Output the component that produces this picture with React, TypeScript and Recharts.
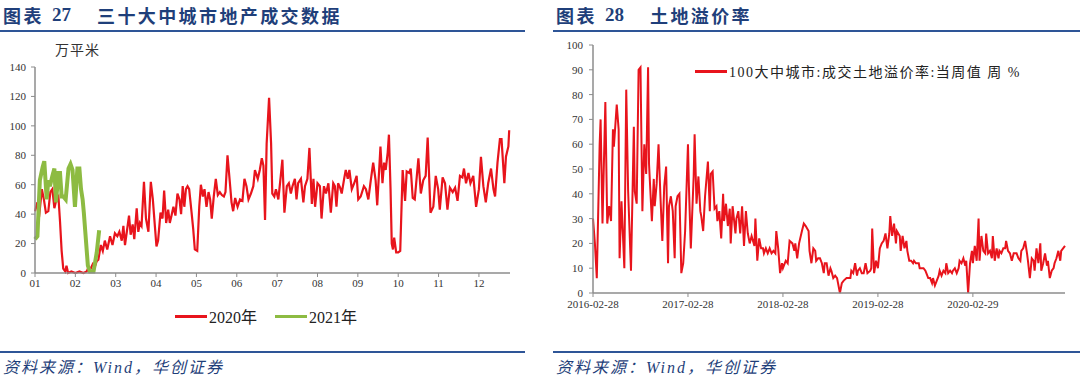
import React from 'react';
import { LineChart, Line, XAxis, YAxis, Legend } from 'recharts';

// 图表27：三十大中城市地产成交（万平米），x 为月份序号（0 = 1月）
const monthTicks = [0, 1, 2, 3, 4, 5, 6, 7, 8, 9, 10, 11];
const monthLabels = ['01', '02', '03', '04', '05', '06', '07', '08', '09', '10', '11', '12'];
const volumeTicks = [0, 20, 40, 60, 80, 100, 120, 140];

const sales2020: [number, number][] = [
  [0, 42], [0.06, 48], [0.1, 38], [0.17, 57], [0.22, 50], [0.27, 41], [0.33, 42], [0.38, 55], [0.43, 57],
  [0.48, 44], [0.53, 50], [0.58, 52], [0.62, 35], [0.66, 15], [0.7, 3], [0.75, 1], [0.78, 5], [0.82, 0],
  [0.9, 1], [1.0, 0], [1.1, 1], [1.2, 0], [1.28, 1], [1.33, 4], [1.38, 3], [1.43, 6], [1.48, 4], [1.53, 8],
  [1.57, 9], [1.63, 19], [1.68, 15], [1.73, 22], [1.79, 16], [1.86, 25], [1.92, 19], [1.98, 27], [2.04, 25],
  [2.09, 28], [2.15, 22], [2.19, 32], [2.23, 19], [2.27, 27], [2.33, 39], [2.37, 26], [2.42, 33], [2.46, 23],
  [2.52, 44], [2.56, 28], [2.6, 34], [2.64, 32], [2.7, 62], [2.75, 37], [2.81, 28], [2.87, 62], [2.92, 50],
  [2.97, 32], [3.01, 18], [3.05, 22], [3.11, 41], [3.16, 37], [3.2, 56], [3.25, 34], [3.3, 43], [3.34, 34],
  [3.39, 40], [3.43, 45], [3.48, 39], [3.53, 54], [3.58, 50], [3.62, 40], [3.66, 59], [3.7, 45], [3.74, 57],
  [3.78, 59], [3.82, 57], [3.88, 41], [3.92, 30], [3.96, 16], [4.02, 15], [4.07, 45], [4.11, 60], [4.16, 52],
  [4.2, 57], [4.25, 45], [4.3, 55], [4.34, 50], [4.38, 37], [4.43, 52], [4.48, 64], [4.53, 53], [4.58, 55],
  [4.63, 53], [4.68, 52], [4.72, 55], [4.77, 80], [4.83, 61], [4.87, 48], [4.91, 42], [4.96, 51], [5.02, 45],
  [5.08, 50], [5.14, 49], [5.19, 64], [5.24, 59], [5.29, 50], [5.35, 54], [5.41, 59], [5.45, 70], [5.52, 64],
  [5.57, 70], [5.62, 78], [5.66, 73], [5.7, 36], [5.74, 88], [5.8, 119], [5.85, 88], [5.88, 54], [5.93, 52],
  [5.97, 57], [6.03, 50], [6.09, 66], [6.13, 77], [6.18, 41], [6.24, 59], [6.29, 61], [6.34, 54], [6.38, 59],
  [6.44, 64], [6.48, 50], [6.52, 61], [6.59, 64], [6.65, 48], [6.69, 59], [6.75, 64], [6.8, 85], [6.86, 47],
  [6.9, 64], [6.94, 45], [7.0, 61], [7.06, 59], [7.1, 37], [7.16, 59], [7.21, 54], [7.27, 61], [7.33, 41],
  [7.39, 61], [7.43, 59], [7.47, 45], [7.51, 61], [7.56, 58], [7.6, 54], [7.66, 64], [7.7, 70], [7.75, 64],
  [7.79, 70], [7.85, 57], [7.91, 61], [7.97, 66], [8.01, 50], [8.07, 52], [8.15, 59], [8.2, 57], [8.26, 50],
  [8.32, 63], [8.38, 75], [8.44, 63], [8.48, 46], [8.56, 86], [8.61, 61], [8.65, 75], [8.69, 70], [8.74, 82],
  [8.77, 94], [8.81, 57], [8.84, 20], [8.87, 16], [8.9, 24], [8.95, 14], [9.0, 14], [9.05, 15], [9.11, 70],
  [9.17, 49], [9.21, 69], [9.27, 68], [9.31, 71], [9.36, 51], [9.41, 50], [9.5, 78], [9.56, 54], [9.62, 63],
  [9.68, 66], [9.73, 92], [9.8, 41], [9.87, 45], [9.93, 66], [9.99, 57], [10.03, 43], [10.1, 65], [10.16, 61],
  [10.22, 43], [10.28, 58], [10.35, 55], [10.41, 58], [10.47, 49], [10.53, 66], [10.59, 65], [10.63, 71],
  [10.68, 61], [10.74, 68], [10.79, 61], [10.86, 66], [10.93, 45], [11.0, 57], [11.05, 79], [11.11, 59],
  [11.17, 48], [11.23, 61], [11.3, 71], [11.36, 57], [11.4, 52], [11.46, 75], [11.52, 91], [11.56, 91],
  [11.63, 61], [11.67, 79], [11.73, 86], [11.75, 97],
];

const sales2021: [number, number][] = [
  [0, 23], [0.06, 25], [0.12, 63], [0.19, 72], [0.23, 76], [0.29, 50], [0.33, 63], [0.37, 59], [0.43, 66],
  [0.48, 71], [0.52, 48], [0.58, 68], [0.62, 68], [0.66, 52], [0.7, 52], [0.76, 50], [0.83, 71], [0.88, 74],
  [0.93, 70], [0.99, 45], [1.05, 71], [1.1, 71], [1.14, 57], [1.18, 50], [1.21, 41], [1.26, 23], [1.31, 5],
  [1.36, 1], [1.45, 1], [1.53, 14], [1.59, 29],
];

// 图表28：土地溢价率（%），x 为自 2016-02-28 起的年数
const yearTicks = [0, 1, 2, 3, 4];
const yearLabels = ['2016-02-28', '2017-02-28', '2018-02-28', '2019-02-28', '2020-02-29'];
const premiumTicks = [0, 10, 20, 30, 40, 50, 60, 70, 80, 90, 100];

const premiumRate: [number, number][] = [
  [0, 30], [0.02, 20], [0.04, 6], [0.07, 60], [0.08, 70], [0.1, 28], [0.13, 77], [0.15, 28], [0.17, 35],
  [0.19, 29], [0.21, 66], [0.22, 59], [0.25, 76], [0.27, 66], [0.28, 14], [0.3, 37], [0.33, 10], [0.35, 82],
  [0.37, 41], [0.4, 9], [0.43, 67], [0.44, 41], [0.46, 36], [0.48, 90], [0.5, 91], [0.52, 33], [0.54, 60],
  [0.56, 48], [0.58, 91], [0.59, 52], [0.62, 29], [0.64, 46], [0.65, 35], [0.67, 44], [0.69, 60], [0.71, 39],
  [0.73, 21], [0.75, 43], [0.77, 51], [0.79, 12], [0.8, 35], [0.82, 39], [0.84, 33], [0.86, 14], [0.87, 35],
  [0.89, 39], [0.91, 40], [0.93, 8], [0.95, 12], [0.97, 25], [1.0, 60], [1.01, 43], [1.03, 18], [1.06, 47],
  [1.07, 64], [1.09, 36], [1.11, 47], [1.13, 33], [1.14, 31], [1.16, 25], [1.18, 39], [1.21, 53], [1.23, 33],
  [1.24, 48], [1.26, 49], [1.28, 34], [1.3, 35], [1.31, 29], [1.33, 33], [1.35, 22], [1.37, 40], [1.38, 29],
  [1.4, 36], [1.42, 27], [1.44, 34], [1.45, 20], [1.47, 35], [1.5, 24], [1.51, 30], [1.53, 33], [1.55, 24],
  [1.57, 35], [1.59, 19], [1.61, 33], [1.63, 24], [1.65, 20], [1.67, 23], [1.7, 19], [1.71, 30], [1.73, 13],
  [1.75, 22], [1.77, 18], [1.79, 18], [1.8, 16], [1.82, 18], [1.84, 16], [1.86, 18], [1.88, 16], [1.9, 17],
  [1.92, 16], [1.93, 25], [1.95, 18], [1.97, 8], [1.99, 12], [2.0, 10], [2.03, 13], [2.05, 12], [2.07, 21],
  [2.1, 20], [2.12, 17], [2.13, 20], [2.15, 14], [2.17, 20], [2.2, 25], [2.22, 28], [2.24, 27], [2.27, 25],
  [2.28, 17], [2.3, 12], [2.32, 18], [2.34, 17], [2.35, 13], [2.37, 14], [2.39, 14], [2.41, 12], [2.43, 8],
  [2.44, 12], [2.46, 12], [2.48, 7], [2.5, 10], [2.51, 9], [2.53, 6], [2.55, 7], [2.57, 6], [2.58, 4],
  [2.6, 0], [2.62, 4], [2.64, 5], [2.67, 6], [2.71, 6], [2.72, 9], [2.74, 8], [2.76, 12], [2.78, 7],
  [2.79, 9], [2.81, 10], [2.83, 8], [2.85, 8], [2.87, 12], [2.89, 8], [2.92, 9], [2.93, 10], [2.94, 26],
  [2.96, 8], [2.98, 13], [3.0, 10], [3.01, 14], [3.02, 18], [3.04, 20], [3.06, 21], [3.08, 24], [3.1, 18],
  [3.12, 24], [3.13, 31], [3.15, 23], [3.17, 28], [3.19, 20], [3.2, 25], [3.23, 23], [3.24, 17], [3.26, 23],
  [3.28, 18], [3.3, 21], [3.31, 17], [3.33, 13], [3.35, 13], [3.37, 12], [3.38, 13], [3.4, 12], [3.43, 12],
  [3.44, 10], [3.46, 10], [3.48, 10], [3.5, 9], [3.51, 8], [3.53, 6], [3.55, 6], [3.57, 4], [3.58, 6],
  [3.6, 3], [3.62, 5], [3.64, 7], [3.65, 9], [3.67, 7], [3.69, 9], [3.71, 8], [3.72, 12], [3.74, 8],
  [3.76, 9], [3.78, 8], [3.79, 9], [3.81, 10], [3.83, 8], [3.85, 10], [3.86, 13], [3.88, 12], [3.9, 14],
  [3.92, 11], [3.93, 13], [3.95, 0], [3.97, 12], [3.99, 17], [4.0, 12], [4.02, 19], [4.04, 13], [4.06, 30],
  [4.07, 13], [4.09, 23], [4.11, 17], [4.13, 16], [4.14, 24], [4.16, 16], [4.18, 17], [4.2, 14], [4.21, 23],
  [4.23, 13], [4.25, 18], [4.27, 14], [4.28, 17], [4.3, 16], [4.32, 18], [4.34, 18], [4.35, 21], [4.37, 17],
  [4.39, 16], [4.41, 13], [4.43, 16], [4.44, 16], [4.46, 16], [4.48, 14], [4.5, 13], [4.51, 17], [4.53, 18],
  [4.55, 21], [4.57, 16], [4.58, 13], [4.6, 6], [4.62, 14], [4.64, 13], [4.65, 9], [4.67, 18], [4.69, 12],
  [4.71, 20], [4.72, 9], [4.74, 12], [4.76, 16], [4.78, 11], [4.79, 13], [4.81, 6], [4.83, 9], [4.85, 10],
  [4.86, 12], [4.88, 14], [4.9, 17], [4.92, 13], [4.93, 17], [4.95, 18], [4.97, 19],
];

const serif = "'Liberation Serif', 'Times New Roman', 'Noto Sans CJK SC', serif";
const cjk = "'Noto Sans CJK SC', sans-serif";
const navy = '#1f3f7a';
const ruleBlue = '#2e5597';
const red = '#e8141c';
const green = '#8dbb42';
const axisGray = '#8c8c8c';

const toRows = (pts: [number, number][]) => pts.map(([x, y]) => ({ x, y }));

const tickStyle = { fontSize: 11, fill: '#333', fontFamily: serif };

function legendContent(props: any) {
  const items = props.payload || [];
  return (
    <div style={{ display: 'flex', gap: 18, fontFamily: serif, color: '#222' }}>
      {items.map((entry: any) => (
        <div key={entry.value} style={{ display: 'flex', alignItems: 'center' }}>
          <span style={{ display: 'inline-block', width: 32, height: 3, background: entry.color, marginRight: 2 }} />
          <span>{entry.value}</span>
        </div>
      ))}
    </div>
  );
}

function Heading({ left, num, text, width }: { left: number; num: string; text: string; width: number }) {
  const base: React.CSSProperties = { position: 'absolute', top: 3, lineHeight: '24px', fontWeight: 700, color: navy };
  return (
    <>
      <span style={{ ...base, left: left + 3, fontFamily: cjk, fontSize: 18, letterSpacing: 2.4 }}>图表</span>
      <span style={{ ...base, left: left + 52, fontFamily: serif, fontSize: 19 }}>{num}</span>
      <span style={{ ...base, left: left + 97, fontFamily: cjk, fontSize: 18, letterSpacing: 2.4 }}>{text}</span>
      <div style={{ position: 'absolute', left, top: 30, width, height: 2, background: ruleBlue }} />
      <div style={{ position: 'absolute', left, top: 351, width, height: 2, background: ruleBlue }} />
      <span
        style={{
          position: 'absolute', left: left + 3, top: 357, fontSize: 16, fontStyle: 'italic',
          fontFamily: serif, color: navy, letterSpacing: 2, lineHeight: '22px',
        }}
      >
        资料来源：Wind，华创证券
      </span>
    </>
  );
}

export default function App() {
  return (
    <div style={{ position: 'absolute', left: 0, top: 0, width: 1080, height: 381, background: '#fff', overflow: 'hidden' }}>
      <Heading left={0} num="27" text="三十大中城市地产成交数据" width={525} />
      <Heading left={553} num="28" text="土地溢价率" width={527} />

      <span style={{ position: 'absolute', left: 55, top: 39, fontSize: 14, fontFamily: cjk, color: '#333', letterSpacing: 1 }}>
        万平米
      </span>

      <div style={{ position: 'absolute', left: 0, top: 0 }}>
        <LineChart width={525} height={330} margin={{ top: 67, right: 15, bottom: 37, left: 0 }}>
          <XAxis
            type="number"
            dataKey="x"
            domain={[0, 11.77]}
            ticks={monthTicks}
            tickFormatter={(v: number) => monthLabels[v]}
            tick={tickStyle}
            height={20}
            tickSize={4}
            axisLine={{ stroke: axisGray, strokeWidth: 1.5 }}
            tickLine={{ stroke: axisGray }}
          />
          <YAxis
            type="number"
            domain={[0, 140]}
            ticks={volumeTicks}
            tick={tickStyle}
            width={35}
            tickSize={4}
            tickMargin={5}
            axisLine={{ stroke: axisGray, strokeWidth: 1.5 }}
            tickLine={{ stroke: axisGray }}
          />
          <Legend
            layout="horizontal"
            verticalAlign="middle"
            align="center"
            content={legendContent}
            wrapperStyle={{ top: 304, left: 175, width: 'auto', fontSize: 16 }}
          />
          <Line
            data={toRows(sales2020)}
            dataKey="y"
            name="2020年"
            type="linear"
            stroke={red}
            strokeWidth={2.2}
            dot={false}
            isAnimationActive={false}
          />
          <Line
            data={toRows(sales2021)}
            dataKey="y"
            name="2021年"
            type="linear"
            stroke={green}
            strokeWidth={4}
            dot={false}
            isAnimationActive={false}
          />
        </LineChart>
      </div>

      <div style={{ position: 'absolute', left: 540, top: 0 }}>
        <LineChart width={540} height={320} margin={{ top: 45, right: 15, bottom: 7, left: 0 }}>
          <XAxis
            type="number"
            dataKey="x"
            domain={[0, 4.97]}
            ticks={yearTicks}
            tickFormatter={(v: number) => yearLabels[v]}
            tick={tickStyle}
            height={20}
            tickSize={4}
            tickMargin={3}
            axisLine={{ stroke: axisGray, strokeWidth: 1.5 }}
            tickLine={{ stroke: axisGray }}
          />
          <YAxis
            type="number"
            domain={[0, 100]}
            ticks={premiumTicks}
            tick={tickStyle}
            width={53}
            tickSize={4}
            tickMargin={6}
            axisLine={{ stroke: axisGray, strokeWidth: 1.5 }}
            tickLine={{ stroke: axisGray }}
          />
          <Legend
            layout="horizontal"
            verticalAlign="middle"
            align="center"
            content={legendContent}
            wrapperStyle={{ top: 61, left: 155, width: 'auto', fontSize: 14, letterSpacing: 1.5 }}
          />
          <Line
            data={toRows(premiumRate)}
            dataKey="y"
            name="100大中城市:成交土地溢价率:当周值 周 %"
            type="linear"
            stroke={red}
            strokeWidth={2}
            dot={false}
            isAnimationActive={false}
          />
        </LineChart>
      </div>
    </div>
  );
}
